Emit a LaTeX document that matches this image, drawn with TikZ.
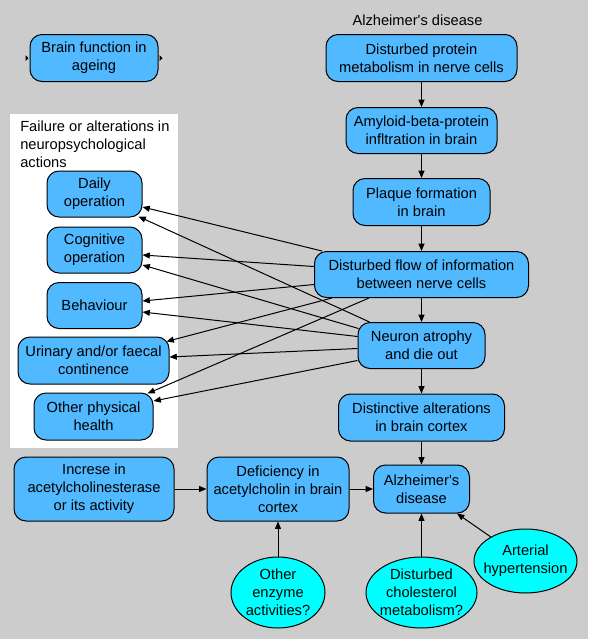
\documentclass[tikz,border=0pt]{standalone}
\usepackage{fontspec}
\setmainfont{Liberation Sans}
\usetikzlibrary{arrows.meta,shapes.geometric,calc}
\definecolor{bg}{HTML}{CCCCCC}
\definecolor{nodeblue}{HTML}{50B9FF}
\definecolor{nodecyan}{HTML}{00FFFF}
\begin{document}
\begin{tikzpicture}[x=0.75pt,y=-0.75pt,
  font=\fontsize{11}{13.5}\selectfont,
  box/.style 2 args={draw=black, line width=0.75pt, fill=nodeblue, rounded corners=9pt, align=center, inner sep=0pt, minimum width=#1*0.75pt, minimum height=#2*0.75pt},
  oval/.style 2 args={ellipse, draw=black, line width=0.75pt, fill=nodecyan, inner sep=0pt, minimum width=#1*0.75pt, minimum height=#2*0.75pt},
  lbl/.style={align=center, inner sep=0pt},
  conn/.style={draw=black, line width=0.75pt, -{Triangle[length=5.5pt,width=4.5pt]}},
  stubtip/.style={fill=black}
]
\fill[white] (0,0) rectangle (593,644);
\fill[bg] (0,0) rectangle (587.5,638.5);
\useasboundingbox (0,0) rectangle (593,644);
\fill[white] (10,114) rectangle (178,448);

% top-left
\node[box={128}{47}] (bf) at (94,58) {Brain function in\\ageing};
\fill[stubtip] ($(bf.west)+(-4,-3)$) -- ($(bf.west)+(-1,0)$) -- ($(bf.west)+(-4,3)$) -- cycle;
\fill[stubtip] ($(bf.east)+(1,-3)$) -- ($(bf.east)+(4,0)$) -- ($(bf.east)+(1,3)$) -- cycle;

% main chain
\node[lbl] (title) at (417.5,20.5) {Alzheimer\textquotesingle s disease};
\node[box={191}{47}] (dp) at (421.5,58) {Disturbed protein\\metabolism in nerve cells};
\node[box={151}{46}] (ab) at (421.5,130.5) {Amyloid-beta-protein\\infltration in brain};
\node[box={137}{47}] (pf) at (421.5,202) {Plaque formation\\in brain};
\node[box={214}{46}] (df) at (421.5,274.5) {Disturbed flow of information\\between nerve cells};
\node[box={127}{46}] (na) at (421.5,345.5) {Neuron atrophy\\and die out};
\node[box={166}{47}] (da) at (421.5,417.5) {Distinctive alterations\\in brain cortex};
\node[box={96}{48}] (ad) at (421.5,489) {Alzheimer\textquotesingle s\\disease};

% bottom row
\node[box={160}{64}] (inc) at (94,489) {Increse in\\acetylcholinesterase\\or its activity};
\node[box={142}{64}] (def) at (278,489) {Deficiency in\\acetylcholin in brain\\cortex};
\node[oval={94}{71}] (oe) at (278,592.5) {};
\node[lbl] (oet) at (oe) {Other\\enzyme\\activities?};
\node[oval={111}{71}] (chol) at (421.5,592.5) {};
\node[lbl] (cholt) at (chol) {Disturbed\\cholesterol\\metabolism?};
\node[oval={103}{64}] (art) at (525.5,561) {};
\node[lbl] (artt) at (art) {Arterial\\hypertension};

% left panel
\node[anchor=north west, align=left, inner sep=0pt] (fail) at (20,120.5) {Failure or alterations in\\neuropsychological\\actions};
\node[box={95}{46}] (daily) at (94.5,194) {Daily\\operation};
\node[box={95}{46}] (cog) at (94.5,250) {Cognitive\\operation};
\node[box={95}{46}] (beh) at (94.5,305.5) {Behaviour};
\node[box={151}{47}] (uri) at (93.5,360.5) {Urinary and/or faecal\\continence};
\node[box={119}{47}] (oph) at (93.5,416.5) {Other physical\\health};

% chain connectors
\draw[conn] (dp) -- (ab);
\draw[conn] (ab) -- (pf);
\draw[conn] (pf) -- (df);
\draw[conn] (df) -- (na);
\draw[conn] (na) -- (da);
\draw[conn] (da) -- (ad);
\draw[conn] (inc) -- (def);
\draw[conn] (def) -- (ad);
\draw[conn] (oe) -- (def);
\draw[conn] (chol) -- (ad);
\draw[conn] (art) -- ($(ad.south east)+(-13,0)$);

% from disturbed flow
\draw[conn] ($(df.north west)+(8,0)$) -- ($(daily.east)+(0,13)$);
\draw[conn] ($(df.west)+(0,-8)$) -- ($(cog.east)+(0,5)$);
\draw[conn] ($(df.west)+(0,10)$) -- ($(beh.east)+(0,-4.5)$);
\draw[conn] ($(df.south west)+(18,0)$) -- ($(uri.north east)+(-3,5)$);
\draw[conn] ($(df.south west)+(55,0)$) -- ($(oph.north east)+(-6,1)$);
% from neuron atrophy
\draw[conn] ($(na.north west)+(12,0)$) -- ($(daily.south east)+(-4,-1)$);
\draw[conn] ($(na.west)+(1,-17)$) -- ($(cog.east)+(0,15)$);
\draw[conn] ($(na.west)+(0,-9)$) -- ($(beh.east)+(0,6.5)$);
\draw[conn] ($(na.west)+(0,3)$) -- ($(uri.east)+(0,-3.5)$);
\draw[conn] ($(na.west)+(0,15)$) -- ($(oph.east)+(0,-15.5)$);
\end{tikzpicture}
\end{document}
